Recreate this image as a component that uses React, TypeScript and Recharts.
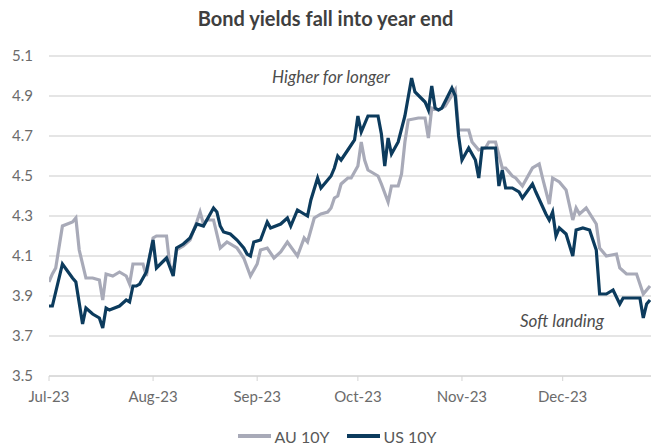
import React from 'react';
import { LineChart, Line, XAxis, YAxis, CartesianGrid, Legend, ReferenceDot } from 'recharts';

// Days counted from 1 Jul 2023
const monthTickDays = [0, 31, 62, 92, 123, 153];
const monthTickLabels = ['Jul-23', 'Aug-23', 'Sep-23', 'Oct-23', 'Nov-23', 'Dec-23'];
const yTicks = [3.5, 3.7, 3.9, 4.1, 4.3, 4.5, 4.7, 4.9, 5.1];

const usDay = [0, 1, 4, 7, 8, 10, 11, 13, 15, 16, 17, 18, 21, 23, 24, 25, 26, 27, 29, 31, 32, 35, 37, 38, 40, 42, 44, 46, 49, 50, 51, 52, 54, 56, 58, 59, 60, 61, 63, 65, 66, 69, 71, 72, 74, 77, 78, 80, 81, 84, 85, 86, 87, 89, 91, 92, 93, 95, 98, 99, 100, 101, 102, 104, 106, 108, 109, 112, 113, 114, 115, 116, 117, 120, 121, 122, 123, 124, 125, 127, 128, 129, 131, 133, 134, 135, 136, 138, 140, 141, 144, 145, 148, 149, 150, 151, 152, 154, 156, 157, 159, 161, 163, 164, 166, 168, 170, 171, 174, 176, 177, 178, 179];
const usYield = [3.85, 3.85, 4.06, 3.99, 3.97, 3.76, 3.84, 3.81, 3.79, 3.74, 3.84, 3.83, 3.85, 3.88, 3.87, 3.95, 3.95, 3.96, 4.02, 4.18, 4.04, 4.09, 4.0, 4.14, 4.16, 4.19, 4.26, 4.25, 4.34, 4.32, 4.25, 4.22, 4.21, 4.18, 4.14, 4.11, 4.1, 4.17, 4.18, 4.27, 4.24, 4.26, 4.29, 4.25, 4.33, 4.3, 4.38, 4.49, 4.44, 4.5, 4.54, 4.6, 4.58, 4.63, 4.68, 4.8, 4.72, 4.8, 4.8, 4.71, 4.55, 4.69, 4.61, 4.67, 4.8, 4.99, 4.92, 4.87, 4.83, 4.95, 4.84, 4.83, 4.84, 4.94, 4.9, 4.7, 4.58, 4.61, 4.64, 4.58, 4.49, 4.64, 4.64, 4.64, 4.45, 4.53, 4.44, 4.44, 4.42, 4.39, 4.46, 4.42, 4.31, 4.28, 4.32, 4.2, 4.24, 4.21, 4.1, 4.23, 4.24, 4.23, 4.13, 3.91, 3.91, 3.93, 3.86, 3.89, 3.89, 3.89, 3.79, 3.86, 3.88];

const auDay = [0, 1, 2, 4, 7, 8, 9, 11, 13, 15, 16, 17, 19, 21, 23, 24, 25, 28, 29, 31, 32, 35, 36, 37, 38, 40, 42, 44, 45, 46, 47, 49, 51, 53, 56, 58, 60, 62, 63, 65, 67, 69, 71, 74, 76, 77, 79, 81, 83, 84, 85, 86, 87, 89, 90, 92, 93, 94, 95, 98, 99, 101, 102, 104, 105, 106, 107, 110, 112, 113, 114, 116, 118, 121, 122, 125, 126, 128, 130, 131, 133, 135, 136, 138, 139, 141, 144, 146, 147, 149, 150, 152, 154, 156, 157, 158, 160, 163, 164, 166, 169, 170, 172, 175, 177, 179];
const auYield = [3.97, 4.01, 4.04, 4.25, 4.27, 4.29, 4.13, 3.99, 3.99, 3.98, 3.88, 4.01, 4.0, 4.02, 4.0, 3.96, 4.06, 4.06, 4.0, 4.19, 4.2, 4.2, 4.05, 4.03, 4.13, 4.15, 4.18, 4.27, 4.32, 4.26, 4.28, 4.28, 4.14, 4.17, 4.14, 4.09, 4.0, 4.06, 4.13, 4.14, 4.09, 4.12, 4.17, 4.1, 4.19, 4.17, 4.29, 4.31, 4.32, 4.34, 4.39, 4.4, 4.46, 4.49, 4.49, 4.55, 4.67, 4.58, 4.53, 4.5, 4.46, 4.37, 4.45, 4.45, 4.51, 4.67, 4.78, 4.79, 4.79, 4.69, 4.84, 4.83, 4.85, 4.93, 4.73, 4.73, 4.67, 4.63, 4.64, 4.67, 4.67, 4.54, 4.54, 4.5, 4.49, 4.45, 4.54, 4.56, 4.49, 4.36, 4.49, 4.47, 4.43, 4.28, 4.34, 4.31, 4.34, 4.26, 4.14, 4.1, 4.11, 4.04, 4.01, 4.01, 3.91, 3.95];

const seriesNames = ['AU 10Y', 'US 10Y'];
const seriesColors = ['#a8aab8', '#0c3b5d'];

const auData = auDay.map((d, i) => ({ d, v: auYield[i] }));
const usData = usDay.map((d, i) => ({ d, v: usYield[i] }));

const FONT = 'Lato, "Noto Sans", sans-serif';

const LegendContent = () => (
  <div style={{ display: 'flex', justifyContent: 'center', alignItems: 'center', height: 20, fontFamily: FONT, fontSize: 16, color: '#595959', transform: 'translate(12px, 2px)' }}>
    {seriesNames.map((n, i) => (
      <div key={n} style={{ display: 'flex', alignItems: 'center', marginRight: i === 0 ? 18 : 0 }}>
        <div style={{ width: 33, height: 4, background: seriesColors[i], marginRight: 3 }} />
        <span>{n}</span>
      </div>
    ))}
  </div>
);

const annotation = (text: string) => (props: any) => {
  const vb = props.viewBox || {};
  const x = (vb.x || 0) + (vb.width || 0) / 2;
  const y = (vb.y || 0) + (vb.height || 0) / 2;
  return (
    <text x={x} y={y} textAnchor="middle" dominantBaseline="central" fontFamily={FONT} fontStyle="italic" fontSize={17} fill="#4d4d4d">
      {text}
    </text>
  );
};

export default function App() {
  return (
    <div style={{ position: 'absolute', left: 0, top: 0, width: 651, height: 444, background: '#fff' }}>
      <div style={{ position: 'absolute', left: 0, top: 5, width: 651, textAlign: 'center', fontFamily: FONT, fontWeight: 700, fontSize: 20, color: '#3f3f3f', lineHeight: '26px' }}>
        Bond yields fall into year end
      </div>
      <LineChart width={651} height={444} margin={{ top: 56, right: 0, left: 0, bottom: 0 }}>
        <CartesianGrid vertical={false} stroke="#dcdcdc" strokeWidth={1.3} />
        <XAxis
          type="number"
          dataKey="d"
          domain={[0, 179.3]}
          allowDataOverflow
          ticks={monthTickDays}
          tickFormatter={(v: number) => monthTickLabels[monthTickDays.indexOf(v)] ?? ''}
          height={48}
          axisLine={{ stroke: '#d4d4d4' }}
          tickLine={{ stroke: '#d4d4d4' }}
          tickSize={5}
          tickMargin={10}
          tick={{ fontFamily: FONT, fontSize: 15, fill: '#6b6b6b' }}
        />
        <YAxis
          type="number"
          domain={[3.5, 5.1]}
          ticks={yTicks}
          tickFormatter={(v: number) => v.toFixed(1)}
          width={49}
          axisLine={false}
          tickLine={false}
          tickSize={0}
          tickMargin={16}
          tick={{ fontFamily: FONT, fontSize: 15, fill: '#6b6b6b' }}
        />
        <Legend verticalAlign="bottom" height={20} content={() => <LegendContent />} />
        <Line data={auData} dataKey="v" name={seriesNames[0]} type="linear" stroke={seriesColors[0]} strokeWidth={3.2} dot={false} isAnimationActive={false} />
        <Line data={usData} dataKey="v" name={seriesNames[1]} type="linear" stroke={seriesColors[1]} strokeWidth={3.2} dot={false} isAnimationActive={false} />
        <ReferenceDot x={84} y={5.0} r={0} ifOverflow="visible" label={annotation('Higher for longer')} />
        <ReferenceDot x={152.8} y={3.78} r={0} ifOverflow="visible" label={annotation('Soft landing')} />
      </LineChart>
    </div>
  );
}
